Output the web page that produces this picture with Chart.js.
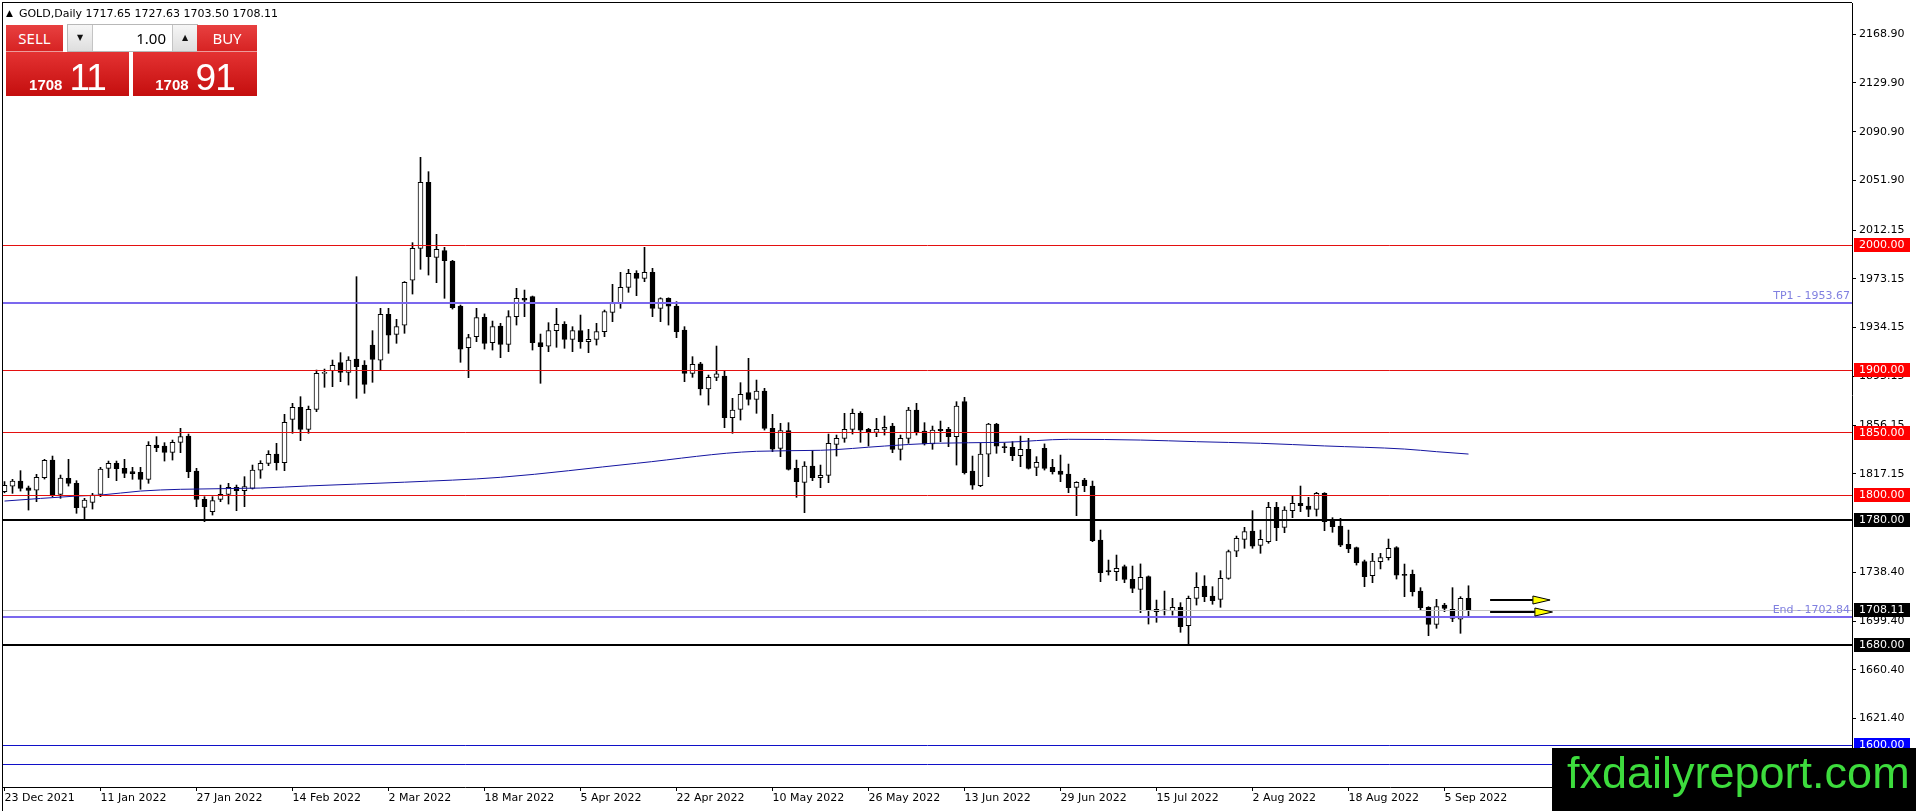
<!DOCTYPE html>
<html>
<head>
<meta charset="utf-8">
<title>GOLD,Daily</title>
<script src="https://cdn.jsdelivr.net/npm/chart.js@4.4.1/dist/chart.umd.min.js"></script>
<style>
  html, body { margin: 0; padding: 0; background: #fff; overflow: hidden; }
  #wrap { position: relative; width: 1916px; height: 811px; }
  #chart { position: absolute; left: 0; top: 0; }
  #header { position: absolute; left: 6px; top: 6px; font: 11px 'DejaVu Sans', sans-serif; line-height: 14px; color: #000; white-space: nowrap; }
  #header .tri { font-size: 9px; vertical-align: 1px; margin-right: 6px; }
  .red { position: absolute; color: #fff; background: linear-gradient(#e84040, #d62222); }
  .top-btn { top: 25px; height: 27px; font: 15px 'Noto Sans', sans-serif; line-height: 27px; text-align: center;
             box-shadow: inset 0 -1px 0 rgba(255,255,255,0.55); }
  #sell-top { left: 6px; width: 57px; }
  #buy-top { left: 197px; width: 60px; }
  #lot { position: absolute; left: 67px; top: 24px; width: 129px; height: 26px; border: 1px solid #b8b8b8; background: #fff; }
  #lot .spin { position: absolute; top: 0; width: 24px; height: 26px; background: linear-gradient(#f6f6f6, #dedede);
               font: 8px 'DejaVu Sans', sans-serif; line-height: 26px; text-align: center; color: #111; }
  #lot-down { left: 0; border-right: 1px solid #c4c4c4; }
  #lot-up { right: 0; border-left: 1px solid #c4c4c4; }
  #lot-val { position: absolute; left: 26px; width: 72px; top: 0; height: 26px; text-align: right;
             font: 15px 'Noto Sans', sans-serif; line-height: 26px; color: #000; }
  .price { top: 52px; height: 44px; display: flex; justify-content: center; align-items: baseline;
           padding-top: 5px; box-sizing: border-box; line-height: 1; background: linear-gradient(#e43232, #c40e0e); }
  .price .small { font: bold 15px 'Liberation Sans', sans-serif; margin-right: 7px; }
  .price .big { font: 37px 'Liberation Sans', sans-serif; letter-spacing: -1px; }
  #sell-price { left: 6px; width: 123px; }
  #buy-price { left: 133px; width: 124px; }
  #brand { position: absolute; left: 1552px; top: 748px; width: 364px; height: 63px; background: #000; color: #3ddc3d;
           font: 45px 'Liberation Sans', sans-serif; line-height: 50px; padding-left: 15px; box-sizing: border-box; }
</style>
</head>
<body>
<div id="wrap">
  <canvas id="chart" width="1916" height="811"></canvas>
  <div id="header"><span class="tri">▲</span>GOLD,Daily 1717.65 1727.63 1703.50 1708.11</div>
  <div class="red top-btn" id="sell-top">SELL</div>
  <div id="lot">
    <div class="spin" id="lot-down">▼</div>
    <div id="lot-val">1.00</div>
    <div class="spin" id="lot-up">▲</div>
  </div>
  <div class="red top-btn" id="buy-top">BUY</div>
  <div class="red price" id="sell-price"><span class="small">1708</span><span class="big">11</span></div>
  <div class="red price" id="buy-price"><span class="small">1708</span><span class="big">91</span></div>
  <div id="brand">fxdailyreport.com</div>
</div>
<script>
// one label every 12 daily bars, first bar = 23 Dec 2021
const xTickLabels = ['23 Dec 2021', '11 Jan 2022', '27 Jan 2022', '14 Feb 2022', '2 Mar 2022', '18 Mar 2022',
  '5 Apr 2022', '22 Apr 2022', '10 May 2022', '26 May 2022', '13 Jun 2022', '29 Jun 2022',
  '15 Jul 2022', '2 Aug 2022', '18 Aug 2022', '5 Sep 2022'];
const yTickValues = [2168.90, 2129.90, 2090.90, 2051.90, 2012.15, 1973.15, 1934.15, 1895.15,
  1856.15, 1817.15, 1738.40, 1699.40, 1660.40, 1621.40];

const openPrices = [
  1803.0, 1807.4, 1811.4, 1806.0, 1804.2, 1814.1, 1828.2, 1800.8, 1813.6, 1809.6,
  1790.4, 1794.4, 1800.8, 1821.6, 1825.6, 1821.6, 1819.0, 1818.4, 1812.8, 1840.2,
  1839.4, 1834.4, 1842.4, 1847.4, 1819.4, 1796.8, 1786.9, 1796.8, 1800.8, 1806.4,
  1803.7, 1805.6, 1820.2, 1825.6, 1833.0, 1826.1, 1860.8, 1870.4, 1852.8, 1868.8,
  1897.6, 1899.7, 1906.1, 1898.4, 1909.0, 1904.2, 1920.2, 1908.2, 1944.8, 1928.8,
  1936.2, 1972.2, 1997.6, 2050.4, 1990.4, 1995.7, 1987.4, 1951.4, 1918.1, 1926.9,
  1942.4, 1922.1, 1935.4, 1920.8, 1942.9, 1957.6, 1958.9, 1922.1, 1919.4, 1931.7,
  1936.8, 1924.8, 1931.7, 1922.9, 1924.8, 1930.9, 1946.4, 1953.6, 1966.4, 1977.6,
  1973.6, 1978.4, 1949.6, 1957.6, 1951.4, 1932.2, 1897.6, 1905.1, 1885.1, 1894.4,
  1895.4, 1862.1, 1868.8, 1882.1, 1876.8, 1883.4, 1853.6, 1837.6, 1851.7, 1821.6,
  1810.4, 1823.4, 1814.1, 1816.0, 1840.8, 1845.6, 1852.8, 1865.6, 1852.8, 1850.4,
  1852.8, 1855.4, 1836.8, 1845.6, 1868.2, 1851.4, 1841.1, 1852.8, 1852.8, 1846.9,
  1874.9, 1819.4, 1807.7, 1833.0, 1857.0, 1838.4, 1838.4, 1831.7, 1836.8, 1822.4,
  1837.6, 1822.4, 1819.4, 1817.0, 1806.4, 1812.2, 1807.4, 1764.2, 1739.1, 1738.9,
  1742.9, 1732.8, 1724.8, 1734.9, 1708.8, 1707.7, 1707.7, 1710.4, 1695.7, 1717.6,
  1727.4, 1719.4, 1716.8, 1733.6, 1755.4, 1764.8, 1771.4, 1760.0, 1762.9, 1790.4,
  1774.4, 1787.7, 1793.6, 1791.4, 1788.8, 1801.6, 1779.4, 1775.4, 1760.8, 1758.1,
  1746.9, 1735.7, 1746.9, 1750.1, 1758.1, 1736.3, 1736.8, 1723.4, 1710.4, 1696.8,
  1712.2, 1708.8, 1701.0, 1717.65
];
const highPrices = [
  1811.0, 1812.8, 1819.7, 1807.4, 1816.8, 1828.8, 1831.4, 1816.2, 1828.8, 1811.7,
  1797.6, 1801.6, 1822.4, 1827.4, 1827.4, 1828.8, 1822.4, 1822.4, 1842.9, 1846.9,
  1842.1, 1844.2, 1853.6, 1849.0, 1821.6, 1798.9, 1798.9, 1808.2, 1809.6, 1808.2,
  1814.9, 1824.2, 1827.7, 1835.7, 1841.6, 1864.8, 1873.6, 1878.9, 1871.4, 1900.2,
  1901.0, 1908.2, 1914.1, 1910.9, 1974.9, 1907.7, 1931.7, 1949.6, 1949.6, 1940.8,
  1971.0, 2002.1, 2070.4, 2058.9, 2008.8, 1998.4, 1988.0, 1952.2, 1928.8, 1949.6,
  1945.1, 1939.4, 1937.6, 1947.7, 1965.6, 1964.2, 1959.4, 1929.0, 1938.1, 1949.6,
  1938.9, 1934.9, 1944.2, 1932.8, 1937.6, 1948.2, 1968.8, 1978.4, 1980.8, 1979.7,
  1998.4, 1981.6, 1958.0, 1958.0, 1954.9, 1934.9, 1910.9, 1906.4, 1896.2, 1919.4,
  1899.4, 1877.6, 1890.1, 1909.6, 1892.2, 1885.6, 1864.8, 1857.6, 1858.1, 1828.2,
  1826.9, 1835.7, 1824.2, 1849.0, 1848.2, 1865.6, 1869.0, 1866.9, 1853.6, 1861.6,
  1863.4, 1857.6, 1848.2, 1870.4, 1873.6, 1858.1, 1855.4, 1859.4, 1854.4, 1874.9,
  1878.4, 1831.4, 1841.6, 1857.6, 1857.6, 1842.0, 1842.9, 1847.4, 1845.6, 1830.9,
  1841.1, 1828.8, 1832.2, 1825.0, 1810.9, 1813.6, 1811.4, 1772.2, 1748.2, 1752.2,
  1744.2, 1743.4, 1745.1, 1735.5, 1716.2, 1723.4, 1717.6, 1714.1, 1719.4, 1738.1,
  1735.7, 1726.9, 1739.7, 1756.2, 1767.4, 1774.4, 1787.7, 1772.2, 1794.4, 1794.4,
  1790.9, 1799.4, 1807.4, 1798.4, 1802.4, 1802.1, 1782.1, 1781.6, 1772.2, 1758.6,
  1748.2, 1753.6, 1753.6, 1765.0, 1758.9, 1745.0, 1740.2, 1726.1, 1710.9, 1716.8,
  1713.6, 1726.1, 1718.9, 1727.63
];
const lowPrices = [
  1802.0, 1801.6, 1803.4, 1788.2, 1794.9, 1813.0, 1798.9, 1797.6, 1807.4, 1785.6,
  1780.8, 1789.0, 1798.9, 1814.1, 1811.7, 1814.1, 1812.8, 1804.8, 1809.6, 1834.9,
  1827.4, 1828.2, 1834.1, 1814.1, 1790.9, 1778.9, 1784.2, 1794.9, 1793.0, 1787.7,
  1790.9, 1805.0, 1813.6, 1823.7, 1820.2, 1819.7, 1849.6, 1843.7, 1849.6, 1866.9,
  1886.4, 1886.9, 1890.9, 1888.2, 1877.6, 1881.6, 1890.4, 1900.2, 1913.6, 1921.6,
  1929.6, 1961.0, 1980.8, 1976.2, 1970.1, 1957.6, 1949.0, 1906.4, 1894.1, 1922.9,
  1917.0, 1916.2, 1910.1, 1914.9, 1936.2, 1942.9, 1916.2, 1889.6, 1914.9, 1918.4,
  1917.6, 1914.9, 1917.6, 1914.1, 1920.2, 1926.9, 1938.9, 1949.6, 1962.4, 1959.7,
  1970.9, 1942.9, 1938.9, 1936.2, 1926.1, 1890.9, 1894.4, 1880.2, 1872.2, 1891.7,
  1854.1, 1849.6, 1860.2, 1872.2, 1865.6, 1852.2, 1834.9, 1830.9, 1820.2, 1798.4,
  1786.1, 1811.7, 1806.1, 1810.1, 1831.4, 1842.4, 1849.0, 1842.4, 1839.4, 1846.9,
  1848.2, 1834.1, 1828.2, 1841.6, 1848.2, 1840.2, 1836.8, 1842.9, 1838.9, 1824.2,
  1817.0, 1804.8, 1806.9, 1814.9, 1833.6, 1834.1, 1827.7, 1822.9, 1821.0, 1815.7,
  1820.2, 1817.0, 1810.9, 1802.1, 1783.7, 1802.9, 1762.9, 1730.9, 1736.2, 1731.7,
  1730.1, 1722.1, 1706.1, 1697.0, 1698.4, 1704.2, 1704.2, 1690.4, 1680.2, 1712.2,
  1714.9, 1712.8, 1710.4, 1732.8, 1750.9, 1757.6, 1757.6, 1753.6, 1761.6, 1763.7,
  1770.1, 1782.1, 1786.9, 1782.9, 1783.4, 1771.7, 1770.4, 1758.9, 1754.1, 1744.2,
  1726.9, 1730.1, 1741.1, 1748.2, 1733.0, 1718.9, 1719.4, 1708.2, 1687.7, 1693.6,
  1706.9, 1698.9, 1689.6, 1703.50
];
const closePrices = [
  1808.0, 1811.4, 1805.6, 1804.0, 1814.4, 1828.0, 1800.2, 1813.8, 1809.6, 1790.1,
  1796.2, 1800.2, 1821.0, 1825.6, 1821.3, 1817.6, 1817.3, 1812.8, 1840.0, 1838.1,
  1834.4, 1842.4, 1846.9, 1818.9, 1796.8, 1790.9, 1795.7, 1800.8, 1806.4, 1803.7,
  1806.9, 1820.2, 1825.6, 1832.8, 1826.1, 1858.4, 1870.4, 1852.8, 1868.8, 1897.6,
  1898.0, 1904.0, 1898.4, 1908.2, 1902.9, 1888.8, 1908.8, 1944.8, 1928.2, 1934.9,
  1970.4, 1997.6, 2050.4, 1990.9, 1996.8, 1987.7, 1950.1, 1917.0, 1926.1, 1942.1,
  1921.6, 1934.9, 1920.8, 1942.9, 1957.6, 1956.2, 1922.1, 1918.9, 1931.7, 1936.8,
  1924.8, 1931.7, 1922.9, 1924.8, 1930.9, 1946.9, 1953.6, 1966.4, 1977.6, 1973.6,
  1978.4, 1949.6, 1957.4, 1951.4, 1930.9, 1897.6, 1904.8, 1885.1, 1894.4, 1897.1,
  1862.1, 1868.2, 1880.8, 1876.8, 1883.4, 1853.6, 1837.0, 1851.7, 1820.8, 1810.9,
  1823.4, 1814.1, 1816.0, 1841.6, 1845.6, 1852.8, 1865.6, 1852.2, 1850.4, 1852.8,
  1854.4, 1836.8, 1845.6, 1868.2, 1850.1, 1841.1, 1852.2, 1851.7, 1846.9, 1871.4,
  1818.1, 1808.2, 1833.0, 1857.0, 1839.4, 1838.1, 1831.7, 1836.8, 1821.6, 1826.4,
  1821.6, 1818.9, 1816.8, 1806.1, 1810.4, 1807.7, 1763.7, 1738.1, 1738.9, 1741.6,
  1732.8, 1725.6, 1734.4, 1708.2, 1706.9, 1707.5, 1710.4, 1694.9, 1717.6, 1726.4,
  1718.9, 1715.7, 1733.6, 1754.9, 1765.6, 1770.9, 1759.4, 1764.8, 1790.4, 1774.1,
  1788.2, 1793.6, 1791.7, 1788.8, 1801.6, 1778.9, 1774.9, 1760.2, 1757.1, 1746.1,
  1734.9, 1747.4, 1750.1, 1757.6, 1736.2, 1736.0, 1722.9, 1710.1, 1696.8, 1710.9,
  1709.6, 1701.6, 1717.6, 1708.11
];

// moving average read at a few bars
const maBars = [0, 9, 12, 17, 22, 32, 38, 50, 62, 79, 94, 102, 110, 116, 125, 133, 142, 149, 157, 165, 175, 179, 183];
const maValues = [1795.4, 1799.4, 1800.2, 1803.4, 1804.8, 1805.8, 1807.5, 1810.5, 1814.4, 1825.6, 1835.2, 1836.0,
  1839.4, 1841.6, 1842.4, 1844.8, 1844.2, 1842.9, 1841.6, 1839.5, 1837.0, 1834.9, 1833.0];

// horizontal lines drawn on the chart
const levelPrices = [2000, 1953.67, 1900, 1850, 1800, 1780, 1708.11, 1702.84, 1680, 1600, 1585];
const levelKinds = ['red', 'tp', 'red', 'red', 'red', 'black', 'bid', 'tp', 'black', 'blue', 'blueNoTag'];
const levelNotes = ['', 'TP1 - 1953.67', '', '', '', '', '', 'End - 1702.84', '', '', ''];

// arrows: from bar, head bar, tip bar, price
const arrowFrom = [185.7, 185.7];
const arrowHead = [191.05, 191.3];
const arrowTip = [193.2, 193.5];
const arrowPrice = [1716.2, 1706.9];

const LEVEL_STYLE = {
  red:       { line: '#e41010', width: 1, box: '#ff0000' },
  tp:        { line: '#7b68ee', width: 2, box: null },
  black:     { line: '#000000', width: 2, box: '#000000' },
  bid:       { line: '#c4c4c4', width: 1, box: '#000000' },
  blue:      { line: '#1010c8', width: 1, box: '#0000ff' },
  blueNoTag: { line: '#1010c8', width: 1, box: null },
};
const AXIS_FONT = "11px 'DejaVu Sans', sans-serif";

const bars = openPrices.map((_, i) => i);
const bodyData = bars.map(i => ({ x: i, y: [openPrices[i], closePrices[i]] }));
const wickData = bars.map(i => ({ x: i, y: [lowPrices[i], highPrices[i]] }));
const maData = maBars.map((b, k) => ({ x: b, y: maValues[k] }));

const crisp = (v, w) => (w % 2 ? Math.floor(v) + 0.5 : Math.round(v));

const mt4Overlay = {
  id: 'mt4Overlay',
  afterDatasetsDraw(chart) {
    const { ctx, chartArea: a, scales: { x, y } } = chart;
    ctx.save();
    ctx.beginPath();
    ctx.rect(a.left, a.top, a.right - a.left, a.bottom - a.top);
    ctx.clip();
    levelPrices.forEach((p, i) => {
      const st = LEVEL_STYLE[levelKinds[i]];
      const py = crisp(y.getPixelForValue(p), st.width);
      ctx.strokeStyle = st.line;
      ctx.lineWidth = st.width;
      ctx.beginPath();
      ctx.moveTo(a.left, py);
      ctx.lineTo(a.right, py);
      ctx.stroke();
    });
    ctx.font = AXIS_FONT;
    ctx.fillStyle = '#8080e0';
    ctx.textAlign = 'right';
    ctx.textBaseline = 'bottom';
    levelPrices.forEach((p, i) => {
      if (!levelNotes[i]) return;
      ctx.fillText(levelNotes[i], a.right - 2, Math.round(y.getPixelForValue(p)) - 1);
    });
    // arrows
    arrowPrice.forEach((p, k) => {
      const py = Math.round(y.getPixelForValue(p));
      const x0 = x.getPixelForValue(arrowFrom[k]);
      const x1 = x.getPixelForValue(arrowHead[k]);
      const x2 = x.getPixelForValue(arrowTip[k]);
      ctx.strokeStyle = '#000';
      ctx.lineWidth = 2;
      ctx.beginPath();
      ctx.moveTo(x0, py);
      ctx.lineTo(x1, py);
      ctx.stroke();
      ctx.beginPath();
      ctx.moveTo(x1, py - 4);
      ctx.lineTo(x2, py);
      ctx.lineTo(x1, py + 4);
      ctx.closePath();
      ctx.fillStyle = '#ffff00';
      ctx.fill();
      ctx.lineWidth = 1;
      ctx.stroke();
    });
    ctx.restore();
  },
  afterDraw(chart) {
    const { ctx, chartArea: a, scales: { y } } = chart;
    ctx.save();
    // price tags on the right scale
    ctx.font = AXIS_FONT;
    ctx.textAlign = 'left';
    ctx.textBaseline = 'middle';
    levelPrices.forEach((p, i) => {
      const st = LEVEL_STYLE[levelKinds[i]];
      if (!st.box) return;
      const py = Math.round(y.getPixelForValue(p));
      ctx.fillStyle = st.box;
      ctx.fillRect(a.right + 2, py - 7, 56, 14);
      ctx.fillStyle = '#fff';
      ctx.fillText(p.toFixed(2), a.right + 7, py);
    });
    // window frame
    ctx.fillStyle = '#000';
    ctx.fillRect(a.left - 1, a.top - 1, 1, chart.height - a.top + 1);
    ctx.fillRect(a.left - 1, a.top - 1, a.right - a.left + 1, 1);
    ctx.restore();
  }
};

new Chart(document.getElementById('chart'), {
  type: 'bar',
  data: {
    datasets: [
      {
        type: 'line',
        label: 'MA',
        data: maData,
        borderColor: '#1414a0',
        borderWidth: 1,
        pointRadius: 0,
        cubicInterpolationMode: 'monotone',
        order: 0,
      },
      {
        label: 'Body',
        data: bodyData,
        backgroundColor: c => (closePrices[c.dataIndex] >= openPrices[c.dataIndex] ? '#ffffff' : '#000000'),
        borderColor: '#000000',
        borderWidth: 1,
        borderSkipped: false,
        barThickness: 5,
        minBarLength: 1,
        grouped: false,
        order: 1,
      },
      {
        label: 'Wick',
        data: wickData,
        backgroundColor: '#000000',
        borderWidth: 0,
        barThickness: 1,
        grouped: false,
        order: 2,
      },
    ],
  },
  options: {
    responsive: false,
    devicePixelRatio: 1,
    animation: false,
    events: [],
    layout: { padding: { left: 3, top: 3, right: 0, bottom: 0 } },
    plugins: {
      legend: { display: false },
      tooltip: { enabled: false },
      title: { display: false },
    },
    scales: {
      x: {
        type: 'linear',
        min: -0.1875,
        max: 230.9375,
        offset: false,
        afterBuildTicks: axis => { axis.ticks = xTickLabels.map((_, k) => ({ value: k * 12 })); },
        afterFit: axis => { axis.height = 24; axis.paddingLeft = 0; axis.paddingRight = 0; },
        grid: { display: true, offset: false, drawOnChartArea: false, drawTicks: true, tickLength: 4, color: '#000' },
        border: { display: true, color: '#000', width: 1 },
        ticks: {
          autoSkip: false,
          maxRotation: 0,
          minRotation: 0,
          align: 'start',
          padding: 1,
          color: '#000',
          font: { family: 'DejaVu Sans', size: 11 },
          callback: (v, i) => xTickLabels[i],
        },
      },
      y: {
        type: 'linear',
        position: 'right',
        min: 1566.64,
        max: 2193.84,
        beginAtZero: false,
        afterBuildTicks: axis => { axis.ticks = yTickValues.map(v => ({ value: v })); },
        afterFit: axis => { axis.width = 64; axis.paddingTop = 0; axis.paddingBottom = 0; },
        grid: { display: true, drawOnChartArea: false, drawTicks: true, tickLength: 4, color: '#000' },
        border: { display: true, color: '#000', width: 1 },
        ticks: {
          autoSkip: false,
          padding: 3,
          color: '#000',
          font: { family: 'DejaVu Sans', size: 11 },
          callback: v => v.toFixed(2),
        },
      },
    },
  },
  plugins: [mt4Overlay],
});
</script>
</body>
</html>
